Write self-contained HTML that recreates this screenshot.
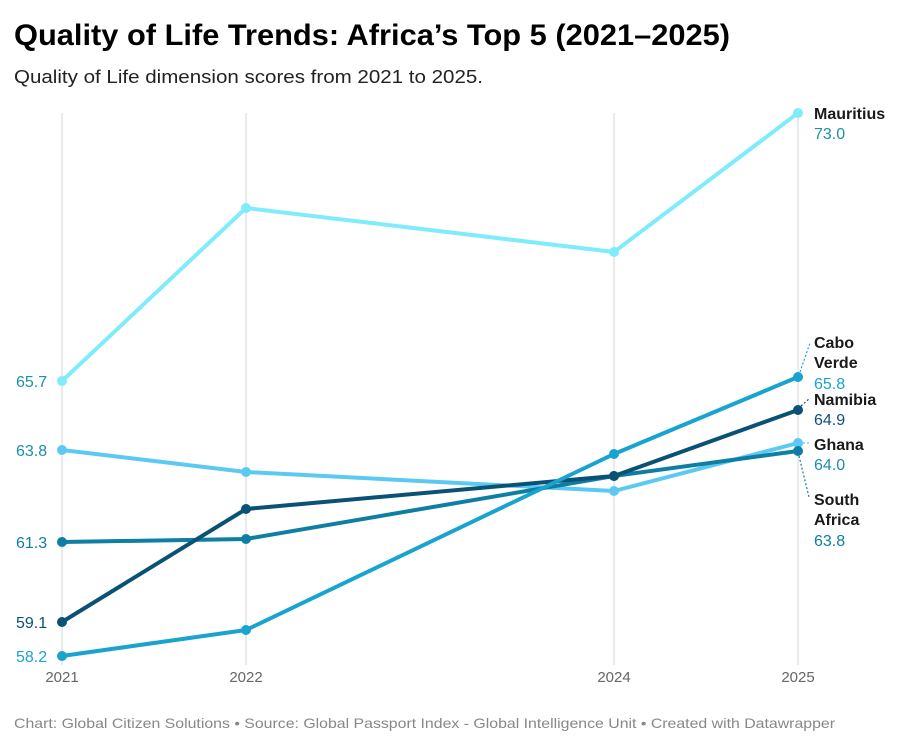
<!DOCTYPE html>
<html><head><meta charset="utf-8"><style>
body{margin:0;background:#fff;width:904px;height:748px;overflow:hidden;font-family:"Liberation Sans",Arial,sans-serif}
</style></head><body>
<svg width="904" height="748" xmlns="http://www.w3.org/2000/svg" font-family="Liberation Sans, Arial, sans-serif">
<text x="14" y="45" font-size="30" font-weight="bold" fill="#000" textLength="716" lengthAdjust="spacingAndGlyphs">Quality of Life Trends: Africa’s Top 5 (2021–2025)</text>
<text x="14" y="83" font-size="18" fill="#222" textLength="469" lengthAdjust="spacingAndGlyphs">Quality of Life dimension scores from 2021 to 2025.</text>
<g stroke="#e3e3e3" stroke-width="1.5">
<line x1="62" y1="113" x2="62" y2="665"/><line x1="246" y1="113" x2="246" y2="665"/>
<line x1="614" y1="113" x2="614" y2="665"/><line x1="798" y1="113" x2="798" y2="665"/>
</g>
<g font-size="15" fill="#666" text-anchor="middle">
<text x="62" y="682">2021</text><text x="246" y="682">2022</text><text x="614" y="682">2024</text><text x="798" y="682">2025</text>
</g>
<g fill="none" stroke-width="4" stroke-linejoin="round">
<polyline stroke="#7fecfb" points="62,381 246,208 614,252 798,113"/>
<polyline stroke="#5cc9f2" points="62,450 246,472 614,491 798,443"/>
<polyline stroke="#0f7ea3" points="62,542 246,539 614,476 798,451"/>
<polyline stroke="#0a5176" points="62,622 246,509 614,476 798,410"/>
<polyline stroke="#19a3cf" points="62,656 246,630 614,454 798,377"/>
</g>
<g>
<g fill="#7fecfb"><circle cx="62" cy="381" r="5"/><circle cx="246" cy="208" r="5"/><circle cx="614" cy="252" r="5"/><circle cx="798" cy="113" r="5"/></g>
<g fill="#5cc9f2"><circle cx="62" cy="450" r="5"/><circle cx="246" cy="472" r="5"/><circle cx="614" cy="491" r="5"/><circle cx="798" cy="443" r="5"/></g>
<g fill="#0f7ea3"><circle cx="62" cy="542" r="5"/><circle cx="246" cy="539" r="5"/><circle cx="614" cy="476" r="5"/><circle cx="798" cy="451" r="5"/></g>
<g fill="#0a5176"><circle cx="62" cy="622" r="5"/><circle cx="246" cy="509" r="5"/><circle cx="614" cy="476" r="5"/><circle cx="798" cy="410" r="5"/></g>
<g fill="#19a3cf"><circle cx="62" cy="656" r="5"/><circle cx="246" cy="630" r="5"/><circle cx="614" cy="454" r="5"/><circle cx="798" cy="377" r="5"/></g>
</g>
<g font-size="16">
<text x="16" y="387" fill="#1a8fae">65.7</text>
<text x="16" y="456" fill="#1a8fae">63.8</text>
<text x="16" y="548" fill="#0f7ea3">61.3</text>
<text x="16" y="628" fill="#0a5176">59.1</text>
<text x="16" y="662" fill="#19a3cf">58.2</text>
</g>
<g stroke-dasharray="2,2" stroke-width="1.2" fill="none">
<line x1="800" y1="372" x2="810" y2="343" stroke="#19a3cf"/>
<line x1="801" y1="406" x2="810" y2="398" stroke="#0a5176"/>
<line x1="803" y1="443" x2="810" y2="443" stroke="#5cc9f2"/>
<line x1="799" y1="456" x2="809" y2="497" stroke="#0f7ea3"/>
</g>
<g font-size="16">
<text x="814" y="119" font-weight="bold" fill="#1a1a1a">Mauritius</text><text x="814" y="139" fill="#1a8fae">73.0</text>
<text x="814" y="348" font-weight="bold" fill="#1a1a1a">Cabo</text><text x="814" y="368" font-weight="bold" fill="#1a1a1a">Verde</text><text x="814" y="389" fill="#19a3cf">65.8</text>
<text x="814" y="405" font-weight="bold" fill="#1a1a1a">Namibia</text><text x="814" y="425" fill="#0a5176">64.9</text>
<text x="814" y="450" font-weight="bold" fill="#1a1a1a">Ghana</text><text x="814" y="470" fill="#1a8fae">64.0</text>
<text x="814" y="505" font-weight="bold" fill="#1a1a1a">South</text><text x="814" y="525" font-weight="bold" fill="#1a1a1a">Africa</text><text x="814" y="546" fill="#0f7ea3">63.8</text>
</g>
<text x="14" y="728" font-size="14" fill="#888" textLength="821" lengthAdjust="spacingAndGlyphs">Chart: Global Citizen Solutions  • Source: Global Passport Index - Global Intelligence Unit • Created with Datawrapper</text>
</svg>
</body></html>
